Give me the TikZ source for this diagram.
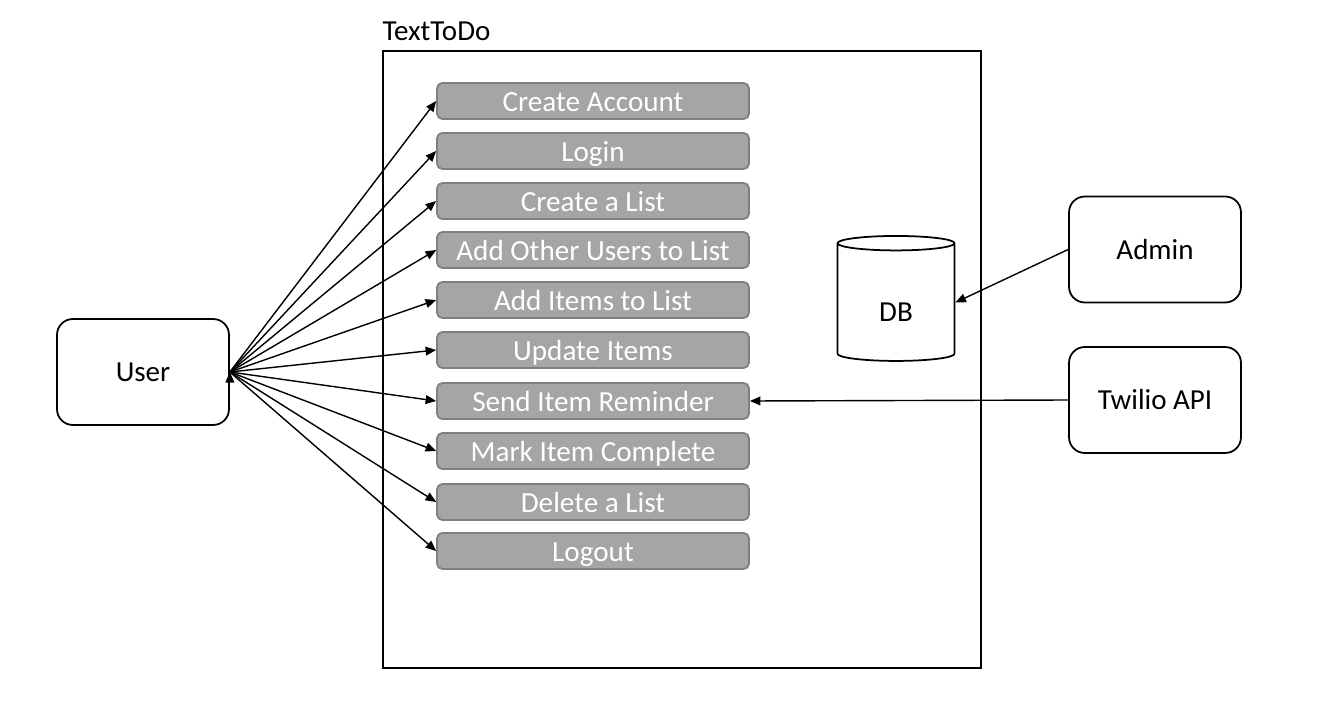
\documentclass[tikz,border=0pt]{standalone}
\usepackage{fontspec}
\setmainfont{Carlito}
\usetikzlibrary{arrows.meta,shapes.geometric}
\definecolor{casefill}{HTML}{A5A5A5}
\definecolor{casedraw}{HTML}{7F7F7F}
\begin{document}
\begin{tikzpicture}
		[x=0.02cm,y=-0.02cm,
		usecase/.style={rectangle,rounded corners=3pt,draw=casedraw,fill=casefill,line width=1pt,
text=white,inner sep=0pt,text height=12pt,text depth=0.6pt,minimum width=6.24cm,minimum height=0.72cm,font=\fontsize{16.6}{18}\selectfont},
		actor/.style={rectangle,rounded corners=9pt,draw,line width=1pt,
inner sep=0pt,minimum width=3.44cm,minimum height=2.12cm,font=\fontsize{16.5}{18}\selectfont},
		store/.style={cylinder,shape border rotate=90,aspect=0.43,draw,line width=1pt,
inner sep=0pt,text height=22pt,text depth=0pt,minimum width=2.34cm,minimum height=2.5cm,font=\fontsize{16.5}{18}\selectfont},
		flow/.style={-{Triangle[length=6pt,width=5pt]},line width=0.8pt}]
		\useasboundingbox (0,0) rectangle (1322,716);
		\node at (682,359.5) (system) [draw,line width=1pt,minimum width=11.96cm,minimum height=12.34cm] {};
		\node at (system.north west) (title) [anchor=south west,inner sep=0pt,yshift=5pt,font=\fontsize{16.5}{18}\selectfont] {TextToDo};
		\node at (593,101) (account) [usecase] {Create Account};
		\node at (593,151) (login) [usecase] {Login};
		\node at (593,201) (newlist) [usecase] {Create a List};
		\node at (593,250) (addusers) [usecase] {Add Other Users to List};
		\node at (593,300) (additems) [usecase] {Add Items to List};
		\node at (593,350) (update) [usecase] {Update Items};
		\node at (593,401) (reminder) [usecase] {Send Item Reminder};
		\node at (593,451) (complete) [usecase] {Mark Item Complete};
		\node at (593,502) (dellist) [usecase] {Delete a List};
		\node at (593,551) (logout) [usecase] {Logout};
		\node at (143,372) (user) [actor] {User};
		\node at (1155,249.5) (admin) [actor] {Admin};
		\node at (1155,400) (twilio) [actor] {Twilio API};
		\node at (896,302.5) (db) [store] {DB};
		\draw[flow] (user.east) edge (account.west) edge (login.west) edge (newlist.west)
			edge (addusers.west) edge (additems.west) edge (update.west) edge (reminder.west)
			edge (complete.west) edge (dellist.west) edge (logout.west);
		\draw[flow] (admin.west) -- (db.0);
		\draw[flow] (twilio.west) -- (reminder.east);
	\end{tikzpicture}
\end{document}
